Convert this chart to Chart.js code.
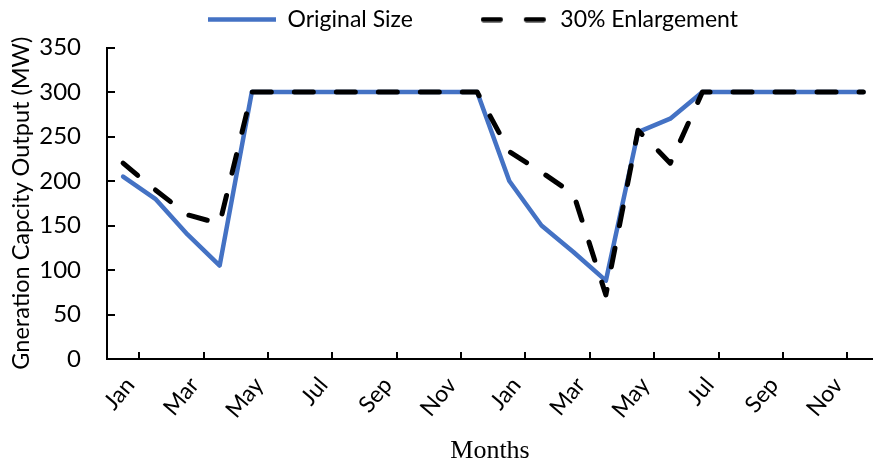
<!DOCTYPE html>
<html>
<head>
<meta charset="utf-8">
<script src="https://cdn.jsdelivr.net/npm/chart.js@4.4.0/dist/chart.umd.min.js"></script>
<style>
  html, body { margin: 0; padding: 0; background: #fff; }
  #wrap { width: 873px; height: 465px; }
</style>
</head>
<body>
<div id="wrap"><canvas id="chart"></canvas></div>
<script>
// two years of monthly values, one point per month
const monthLabels = ["Jan", "Mar", "May", "Jul", "Sep", "Nov", "Jan", "Mar", "May", "Jul", "Sep", "Nov"];
const originalSize = [205, 180, 140, 105, 300, 300, 300, 300, 300, 300, 300, 300,
                      200, 150, 120, 88, 255, 270, 300, 300, 300, 300, 300, 300];
const enlargement30 = [220, 190, 162, 152, 300, 300, 300, 300, 300, 300, 300, 300,
                       233, 210, 185, 72, 257, 220, 300, 300, 300, 300, 300, 300];
const yTicks = [0, 50, 100, 150, 200, 250, 300, 350];

const sans = "Lato, 'Open Sans', sans-serif";

// legend sample for the dashed series (the point style "line" ignores the dash)
function dashedSample() {
  const c = document.createElement("canvas");
  c.width = 68;
  c.height = 6;
  const g = c.getContext("2d");
  g.strokeStyle = "#000";
  g.lineWidth = 5;
  g.lineCap = "round";
  g.setLineDash([17, 26]);
  g.beginPath();
  g.moveTo(2.5, 3);
  g.lineTo(66, 3);
  g.stroke();
  return c;
}

// Excel style tick marks drawn inside the plot area
const innerTicks = {
  id: "innerTicks",
  afterDraw(chart) {
    const { ctx, scales: { x, y } } = chart;
    ctx.save();
    ctx.strokeStyle = "#000";
    ctx.lineWidth = 2;
    ctx.beginPath();
    yTicks.forEach(v => {
      const py = Math.round(y.getPixelForValue(v));
      ctx.moveTo(x.left, py);
      ctx.lineTo(x.left + 8, py);
    });
    monthLabels.forEach((_, k) => {
      const px = Math.round(x.getPixelForValue(0.5 + 2 * k));
      ctx.moveTo(px, y.bottom);
      ctx.lineTo(px, y.bottom - 7);
    });
    ctx.stroke();
    ctx.restore();
  }
};

// legend padding is big for the gap between the two items, so pull its top back up
// (bottom stays put, the legend clips to its own box)
const legendOffset = {
  id: "legendOffset",
  afterLayout(chart, args, opts) {
    const lg = chart.legend;
    if (!lg) return;
    lg.left += opts.dx;
    lg.right += opts.dx;
    lg.top += opts.dy;
  }
};

const toPoints = arr => arr.map((v, i) => ({ x: i, y: v }));

new Chart(document.getElementById("chart"), {
  type: "line",
  data: {
    datasets: [
      {
        label: "Original Size",
        data: toPoints(originalSize),
        borderColor: "#4472C4",
        backgroundColor: "#4472C4",
        borderWidth: 4.5,
        borderCapStyle: "round",
        borderJoinStyle: "round",
        pointRadius: 0,
        pointStyle: "line",
        tension: 0,
        order: 1
      },
      {
        label: "30% Enlargement",
        data: toPoints(enlargement30),
        borderColor: "#000",
        backgroundColor: "#000",
        borderWidth: 5,
        borderDash: [19, 23],
        borderCapStyle: "round",
        borderJoinStyle: "round",
        pointRadius: 0,
        pointStyle: dashedSample(),
        tension: 0,
        order: 0
      }
    ]
  },
  options: {
    responsive: true,
    maintainAspectRatio: false,
    animation: false,
    layout: { padding: 0 },
    plugins: {
      tooltip: { enabled: false },
      legendOffset: { dx: -17, dy: -60 },
      legend: {
        position: "top",
        fullSize: false,
        maxHeight: 47.5,
        labels: {
          usePointStyle: true,
          pointStyleWidth: 68,
          padding: 68,
          color: "#000",
          font: { family: sans, size: 23 },
          sort: (a, b) => a.datasetIndex - b.datasetIndex
        }
      }
    },
    scales: {
      x: {
        type: "linear",
        min: -0.5,
        max: 23.3,
        afterBuildTicks: s => {
          s.ticks = monthLabels.map((_, k) => ({ value: 0.22 + 2 * k }));
        },
        afterFit: s => { s.height = 106; },
        grid: { display: false, drawTicks: false },
        border: { color: "#000", width: 2 },
        ticks: {
          autoSkip: false,
          maxRotation: 50,
          minRotation: 50,
          padding: 13,
          color: "#000",
          font: { family: sans, size: 23 },
          callback: (v, i) => monthLabels[i]
        },
        title: {
          display: true,
          text: "Months",
          color: "#000",
          font: { family: "'Liberation Serif', 'Times New Roman', serif", size: 26, lineHeight: 1 },
          padding: { top: 0, bottom: 1 }
        }
      },
      y: {
        min: 0,
        max: 350,
        afterBuildTicks: s => {
          s.ticks = yTicks.map(v => ({ value: v }));
        },
        afterFit: s => { s.width = 107; },
        grid: { display: false, drawTicks: false },
        border: { color: "#000", width: 2 },
        ticks: {
          padding: 26,
          color: "#000",
          font: { family: sans, size: 24 }
        },
        title: {
          display: true,
          text: "Gneration Capcity Output (MW)",
          color: "#000",
          font: { family: sans, size: 23.5, lineHeight: 1.2 },
          padding: { top: 7, bottom: 0 }
        }
      }
    }
  },
  plugins: [innerTicks, legendOffset]
});
</script>
</body>
</html>
